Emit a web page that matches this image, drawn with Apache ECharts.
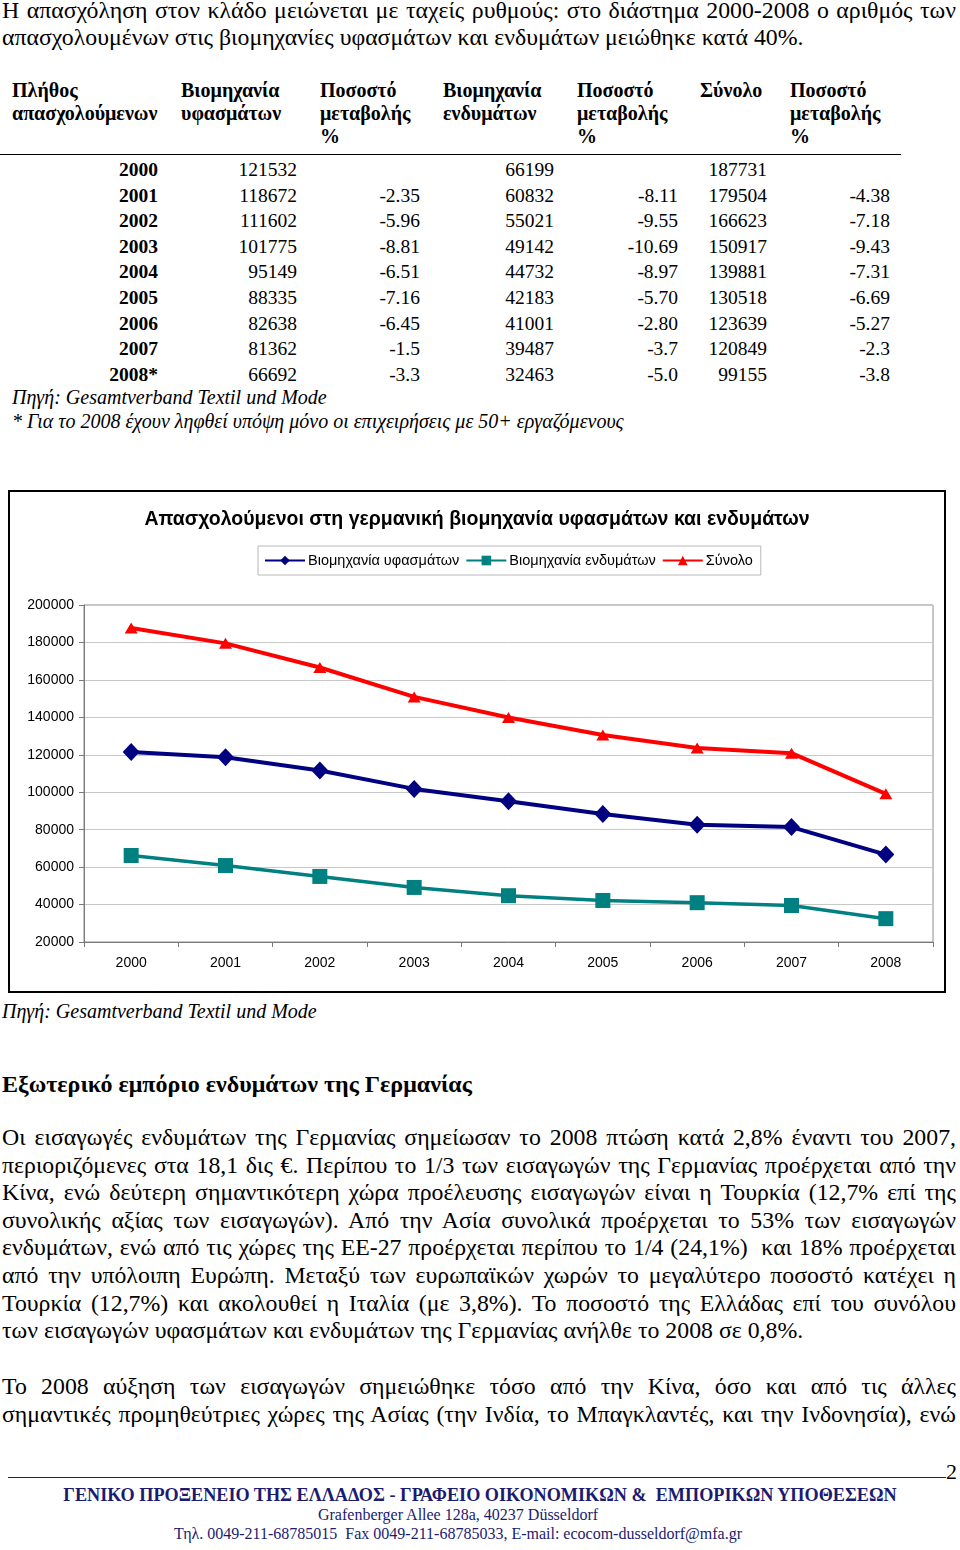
<!DOCTYPE html>
<html>
<head>
<meta charset="utf-8">
<script src="https://cdn.jsdelivr.net/npm/echarts@6/dist/echarts.min.js"></script>
<style>
  html, body { margin:0; padding:0; background:#fff; }
  body { width:960px; height:1550px; position:relative; overflow:hidden; font-family:"Liberation Serif","Times New Roman",serif; color:#000; }
  .abs { position:absolute; }
  .ln { position:absolute; left:2px; width:954px; font-size:23.8px; line-height:27px; height:27px; text-align:justify; text-align-last:justify; white-space:normal; }
  .ln.last { text-align-last:left; }
  .hd { position:absolute; font-weight:bold; font-size:20px; line-height:23px; }
  .cell { position:absolute; font-size:19.5px; line-height:25.6px; text-align:right; }
  .it { position:absolute; font-style:italic; font-size:20px; line-height:24px; white-space:nowrap; }
  #chartBox { position:absolute; left:8px; top:490px; width:938px; height:503px; box-sizing:border-box; border:2px solid #000; }
  #chart { width:934px; height:499px; }
  .foot { position:absolute; left:0; width:960px; text-align:center; color:#1b1b6f; white-space:nowrap; }
</style>
</head>
<body>
<div class="ln" style="top:-3px;">Η απασχόληση στον κλάδο μειώνεται με ταχείς ρυθμούς: στο διάστημα 2000-2008 ο αριθμός των</div>
<div class="ln last" style="top:24px;">απασχολουμένων στις βιομηχανίες υφασμάτων και ενδυμάτων μειώθηκε κατά 40%.</div>

<div id="table"></div>

<div class="it" style="left:12px; top:385px;">Πηγή: Gesamtverband Textil und Mode</div>
<div class="it" style="left:12px; top:409px;">* Για το 2008 έχουν ληφθεί υπόψη μόνο οι επιχειρήσεις με 50+ εργαζόμενους</div>

<div id="chartBox"><div id="chart"></div></div>

<div class="it" style="left:2px; top:999px;">Πηγή: Gesamtverband Textil und Mode</div>
<div class="abs" style="left:2px; top:1069px; font-size:24px; font-weight:bold; line-height:30px; white-space:nowrap;">Εξωτερικό εμπόριο ενδυμάτων της Γερμανίας</div>

<div class="ln" style="top:1124px;">Οι εισαγωγές ενδυμάτων της Γερμανίας σημείωσαν το 2008 πτώση κατά 2,8% έναντι του 2007,</div>
<div class="ln" style="top:1151.6px;">περιοριζόμενες στα 18,1 δις €. Περίπου το 1/3 των εισαγωγών της Γερμανίας προέρχεται από την</div>
<div class="ln" style="top:1179.2px;">Κίνα, ενώ δεύτερη σημαντικότερη χώρα προέλευσης εισαγωγών είναι η Τουρκία (12,7% επί της</div>
<div class="ln" style="top:1206.8px;">συνολικής αξίας των εισαγωγών). Από την Ασία συνολικά προέρχεται το 53% των εισαγωγών</div>
<div class="ln" style="top:1234.4px;">ενδυμάτων, ενώ από τις χώρες της ΕΕ-27 προέρχεται περίπου το 1/4 (24,1%)&nbsp; και 18% προέρχεται</div>
<div class="ln" style="top:1262px;">από την υπόλοιπη Ευρώπη. Μεταξύ των ευρωπαϊκών χωρών το μεγαλύτερο ποσοστό κατέχει η</div>
<div class="ln" style="top:1289.6px;">Τουρκία (12,7%) και ακολουθεί η Ιταλία (με 3,8%). Το ποσοστό της Ελλάδας επί του συνόλου</div>
<div class="ln last" style="top:1317.2px;">των εισαγωγών υφασμάτων και ενδυμάτων της Γερμανίας ανήλθε το 2008 σε 0,8%.</div>

<div class="ln" style="top:1373px;">Το 2008 αύξηση των εισαγωγών σημειώθηκε τόσο από την Κίνα, όσο και από τις άλλες</div>
<div class="ln" style="top:1401px;">σημαντικές προμηθεύτριες χώρες της Ασίας (την Ινδία, το Μπαγκλαντές, και την Ινδονησία), ενώ</div>

<div class="abs" style="left:8px; top:1477px; width:938px; height:0; border-top:1.5px solid #1b1b6f;"></div>
<div class="abs" style="left:946px; top:1460px; font-size:22px; line-height:24px;">2</div>
<div class="foot" style="top:1484px; font-size:18.2px; font-weight:bold; line-height:22px;">ΓΕΝΙΚΟ ΠΡΟΞΕΝΕΙΟ ΤΗΣ ΕΛΛΑΔΟΣ - ΓΡΑΦΕΙΟ ΟΙΚΟΝΟΜΙΚΩΝ &amp;&nbsp; ΕΜΠΟΡΙΚΩΝ ΥΠΟΘΕΣΕΩΝ</div>
<div class="foot" style="top:1505px; left:-22px; font-size:16px; line-height:20px;">Grafenberger Allee 128a, 40237 Düsseldorf</div>
<div class="foot" style="top:1524px; left:-22px; font-size:16px; line-height:20px;">Τηλ. 0049-211-68785015&nbsp; Fax 0049-211-68785033, E-mail: ecocom-dusseldorf@mfa.gr</div>

<script>
// ---- data ----
const years = ['2000','2001','2002','2003','2004','2005','2006','2007','2008'];
const tableYears = ['2000','2001','2002','2003','2004','2005','2006','2007','2008*'];
const textiles = [121532,118672,111602,101775,95149,88335,82638,81362,66692];
const textilesPct = ['','-2.35','-5.96','-8.81','-6.51','-7.16','-6.45','-1.5','-3.3'];
const clothing = [66199,60832,55021,49142,44732,42183,41001,39487,32463];
const clothingPct = ['','-8.11','-9.55','-10.69','-8.97','-5.70','-2.80','-3.7','-5.0'];
const total = [187731,179504,166623,150917,139881,130518,123639,120849,99155];
const totalPct = ['','-4.38','-7.18','-9.43','-7.31','-6.69','-5.27','-2.3','-3.8'];
const headers = [
  ['Πλήθος','απασχολούμενων'],
  ['Βιομηχανία','υφασμάτων'],
  ['Ποσοστό','μεταβολής','%'],
  ['Βιομηχανία','ενδυμάτων'],
  ['Ποσοστό','μεταβολής','%'],
  ['Σύνολο'],
  ['Ποσοστό','μεταβολής','%']
];
const seriesNames = ['Βιομηχανία υφασμάτων','Βιομηχανία ενδυμάτων','Σύνολο'];
const chartTitle = 'Απασχολούμενοι στη γερμανική βιομηχανία υφασμάτων και ενδυμάτων';

// ---- table (html) ----
(function(){
  const t = document.getElementById('table');
  const hx = [12,181,320,443,577,700,790];
  let h = '';
  headers.forEach((lines,i)=>{
    h += '<div class="hd" style="left:'+hx[i]+'px; top:79px;">'+lines.join('<br>')+'</div>';
  });
  h += '<div class="abs" style="left:0; top:154px; width:901px; border-top:1.5px solid #000;"></div>';
  const rights = [158,297,420,554,678,767,890];
  const cols = [tableYears, textiles, textilesPct, clothing, clothingPct, total, totalPct];
  for (let r=0;r<tableYears.length;r++){
    const top = 157 + r*25.6;
    cols.forEach((col,c)=>{
      const bold = c===0 ? 'font-weight:bold;' : '';
      h += '<div class="cell" style="'+bold+'left:'+(rights[c]-120)+'px; width:120px; top:'+top+'px;">'+col[r]+'</div>';
    });
  }
  t.innerHTML = h;
})();

// ---- chart ----
const chart = echarts.init(document.getElementById('chart'), null, {renderer:'canvas'});
const sans = '"Liberation Sans", Arial, sans-serif';
chart.setOption({
  animation:false,
  title:{ text: chartTitle, left:'center', top:13,
    textStyle:{ fontFamily:sans, fontSize:19.5, fontWeight:'bold', color:'#000' } },
  legend:{ left:248, top:54, padding:[7,8,7,6], borderColor:'#b8b8b8', borderWidth:1,
    itemWidth:40, itemHeight:12, itemGap:6,
    textStyle:{ fontFamily:sans, fontSize:14.5, color:'#000', padding:[0,0,0,-2] },
    data: seriesNames },
  grid:{ left:74, top:113, width:849, height:337, show:true, borderColor:'#8c8c8c', borderWidth:1 },
  xAxis:{ type:'category', data:years, boundaryGap:true,
    axisLine:{ lineStyle:{ color:'#7a7a7a', width:1 } },
    axisTick:{ show:true, length:5, lineStyle:{ color:'#7a7a7a' } },
    axisLabel:{ color:'#000', fontFamily:sans, fontSize:14, margin:14 } },
  yAxis:{ type:'value', min:20000, max:200000, interval:20000,
    axisLine:{ show:true, lineStyle:{ color:'#7a7a7a', width:1 } },
    axisTick:{ show:true, length:5, lineStyle:{ color:'#7a7a7a' } },
    splitLine:{ lineStyle:{ color:'#c8c8c8', width:1 } },
    axisLabel:{ color:'#000', fontFamily:sans, fontSize:14, margin:10, formatter: v => String(v) } },
  series:[
    { name:seriesNames[0], type:'line', data:textiles, symbol:'diamond', symbolSize:[17,18],
      lineStyle:{ color:'#000080', width:4 }, itemStyle:{ color:'#000080' }, z:3 },
    { name:seriesNames[1], type:'line', data:clothing, symbol:'rect', symbolSize:15,
      lineStyle:{ color:'#008080', width:3.5 }, itemStyle:{ color:'#008080' }, z:2 },
    { name:seriesNames[2], type:'line', data:total, symbol:'triangle', symbolSize:[13,11],
      lineStyle:{ color:'#ff0000', width:4 }, itemStyle:{ color:'#ff0000' }, z:4 }
  ]
});
</script>
</body>
</html>
